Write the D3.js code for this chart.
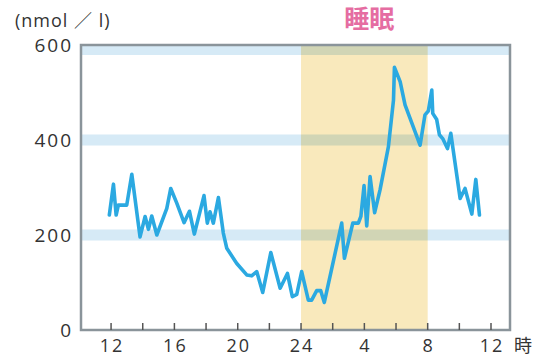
<!DOCTYPE html>
<html lang="ja">
<head>
<meta charset="UTF-8">
<title>睡眠</title>
<style>
  body { margin: 0; background: #fff; }
  text { font-family: "Open Sans", "Noto Sans CJK JP", sans-serif; fill: #333; }
</style>
</head>
<body>
<div id="chart"></div>
<script src="https://d3js.org/d3.v7.min.js"></script>
<script>
// hours since midnight of day 1 (24 = midnight, 36 = noon next day)
const hours = [11.89, 12.15, 12.32, 12.46, 12.99, 13.31, 13.83, 14.15, 14.36, 14.57,
  14.89, 15.52, 15.77, 16.15, 16.61, 16.95, 17.26, 17.87, 18.08, 18.25,
  18.46, 18.78, 19.09, 19.31, 19.94, 20.57, 20.88, 21.2, 21.58, 22.09,
  22.68, 23.14, 23.45, 23.73, 24.04, 24.46, 24.67, 24.99, 25.24, 25.47,
  26.57, 26.74, 27.27, 27.62, 27.78, 27.98, 28.15, 28.36, 28.65, 28.99,
  29.52, 29.84, 29.9, 30.26, 30.57, 31.52, 31.83, 32.04, 32.26, 32.32,
  32.57, 32.74, 32.95, 33.25, 33.46, 34.05, 34.36, 34.79, 35.04, 35.27];
const values = [242, 307, 242, 263, 263, 328, 196, 239, 212, 240,
  200, 256, 298, 267, 226, 250, 202, 283, 225, 249,
  225, 279, 204, 172, 140, 116, 114, 123, 79, 163,
  88, 119, 70, 75, 123, 63, 63, 83, 83, 58,
  225, 151, 225, 225, 239, 304, 219, 323, 247, 295,
  386, 484, 553, 523, 474, 389, 453, 461, 505, 456,
  443, 411, 403, 382, 414, 277, 298, 244, 317, 242];

const sleepWindow = [24, 32];
const bandLevels = [200, 400, 600];
const yTicks = [0, 200, 400, 600];
const xTickHours = [12, 16, 20, 24, 28, 32, 36];
const xTickLabels = ['12', '16', '20', '24', '4', '8', '12'];
const minorTickHours = d3.range(12, 37, 2);

const W = 546, H = 359;
const svg = d3.select('#chart').append('svg')
  .attr('width', W).attr('height', H);

const x = d3.scaleLinear().domain([10.1, 37.2]).range([81, 510]);
const y = d3.scaleLinear().domain([0, 600]).range([330, 45]);

const plotLeft = x.range()[0], plotRight = x.range()[1];
const plotTop = y(600), plotBottom = y(0);

svg.append('defs').append('clipPath').attr('id', 'plot')
  .append('rect').attr('x', plotLeft).attr('y', plotTop)
  .attr('width', plotRight - plotLeft).attr('height', plotBottom - plotTop);

const plot = svg.append('g').attr('clip-path', 'url(#plot)');

// sleep period
plot.append('rect')
  .attr('x', x(sleepWindow[0])).attr('y', plotTop)
  .attr('width', x(sleepWindow[1]) - x(sleepWindow[0]))
  .attr('height', plotBottom - plotTop)
  .attr('fill', '#f9e9bc');

// light blue bands
plot.selectAll('.band').data(bandLevels).enter().append('rect')
  .attr('class', 'band')
  .attr('x', plotLeft).attr('width', plotRight - plotLeft)
  .attr('y', d => d === 600 ? y(d) : y(d) - 5.5)
  .attr('height', d => d === 600 ? 10 : 11)
  .attr('fill', '#d6eaf6')
  .style('mix-blend-mode', 'multiply');

// frame
svg.append('rect')
  .attr('x', plotLeft).attr('y', plotTop)
  .attr('width', plotRight - plotLeft).attr('height', plotBottom - plotTop)
  .attr('fill', 'none').attr('stroke', '#8a949a').attr('stroke-width', 2.5);

// x ticks (pointing inward)
svg.selectAll('.xtick').data(minorTickHours).enter().append('line')
  .attr('x1', d => x(d)).attr('x2', d => x(d))
  .attr('y1', plotBottom).attr('y2', plotBottom - 7)
  .attr('stroke', '#555').attr('stroke-width', 1.5);

// series
const line = d3.line().x((d, i) => x(hours[i])).y(d => y(d));
svg.append('path').datum(values)
  .attr('d', line)
  .attr('fill', 'none')
  .attr('stroke', '#2ba9e1')
  .attr('stroke-width', 3.6)
  .attr('stroke-linejoin', 'round')
  .attr('stroke-linecap', 'round');

// y labels
svg.selectAll('.ylab').data(yTicks).enter().append('text')
  .attr('x', 73).attr('y', d => y(d))
  .attr('dy', '0.35em')
  .attr('text-anchor', 'end')
  .style('font-size', '19px').style('letter-spacing', '2px')
  .text(d => d);

// x labels
svg.selectAll('.xlab').data(xTickHours).enter().append('text')
  .attr('x', d => x(d) + 1).attr('y', 346)
  .attr('dy', '0.35em')
  .attr('text-anchor', 'middle')
  .style('font-size', '18px').style('letter-spacing', '2px')
  .text((d, i) => xTickLabels[i]);

svg.append('text')
  .attr('x', 523).attr('y', 346).attr('dy', '0.35em')
  .attr('text-anchor', 'middle')
  .style('font-size', '18px')
  .text('時');

// unit
svg.append('text')
  .attr('x', 15).attr('y', 21).attr('dy', '0.35em')
  .style('font-size', '18px').style('letter-spacing', '1px')
  .text('(nmol ／ l)');

// sleep title
svg.append('text')
  .attr('x', x((sleepWindow[0] + sleepWindow[1]) / 2) + 5).attr('y', 19)
  .attr('dy', '0.35em')
  .attr('text-anchor', 'middle')
  .style('font-size', '25px').style('font-weight', 'bold')
  .style('fill', '#e56da2')
  .text('睡眠');
</script>
</body>
</html>
